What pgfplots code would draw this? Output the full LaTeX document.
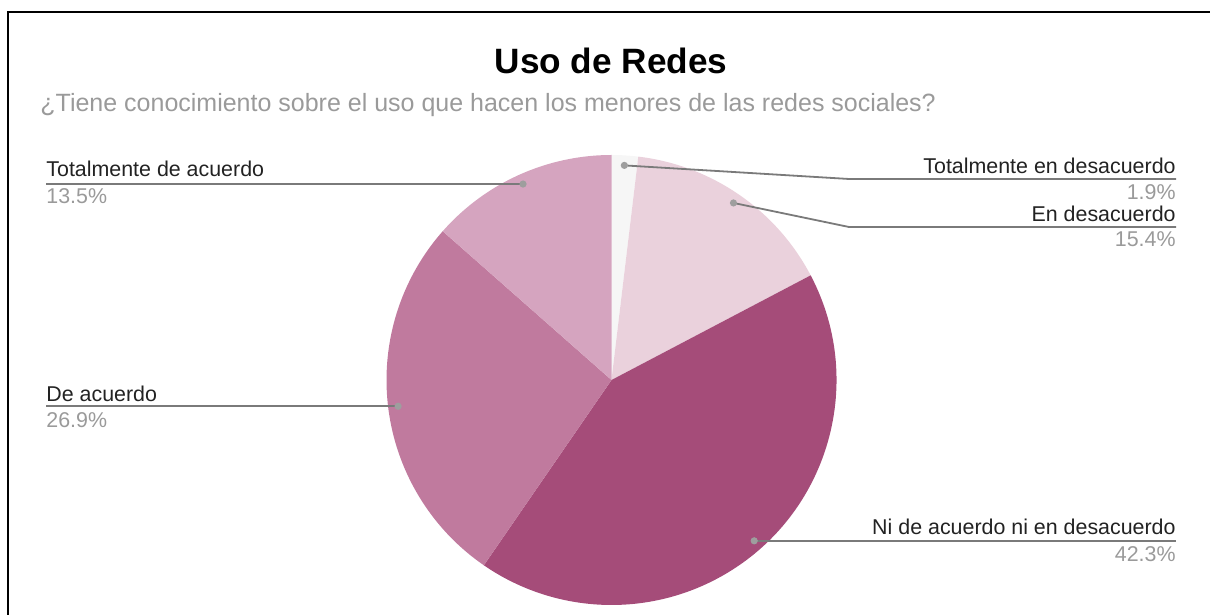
\documentclass[border=0pt]{standalone}
\usepackage{pgfplots}
\pgfplotsset{compat=1.18}
\usepackage{pgfplotstable}
\usepackage{fontspec}
\setmainfont{Liberation Sans}
\definecolor{cTD}{HTML}{F6F6F6}
\definecolor{cED}{HTML}{EAD1DC}
\definecolor{cNN}{HTML}{A54C79}
\definecolor{cDA}{HTML}{C07A9E}
\definecolor{cTA}{HTML}{D5A4BF}
\definecolor{leader}{HTML}{7A7A7A}
\definecolor{dotc}{HTML}{9E9E9E}
\definecolor{subc}{HTML}{9A9A9A}
\definecolor{labc}{HTML}{222222}

\pgfplotstableread{
key value
TD 1.9
ED 15.4
NN 42.3
DA 26.9
TA 13.5
}\piedata

% cumulative angles, clockwise from the top
\pgfplotstablegetelem{0}{value}\of\piedata\let\vA\pgfplotsretval
\pgfplotstablegetelem{1}{value}\of\piedata\let\vB\pgfplotsretval
\pgfplotstablegetelem{2}{value}\of\piedata\let\vC\pgfplotsretval
\pgfplotstablegetelem{3}{value}\of\piedata\let\vD\pgfplotsretval
\pgfplotstablegetelem{4}{value}\of\piedata\let\vE\pgfplotsretval
\pgfmathsetmacro\aA{90}
\pgfmathsetmacro\aB{\aA-3.6*\vA}
\pgfmathsetmacro\aC{\aB-3.6*\vB}
\pgfmathsetmacro\aD{\aC-3.6*\vC}
\pgfmathsetmacro\aE{\aD-3.6*\vD}
\pgfmathsetmacro\aF{\aE-3.6*\vE}
\pgfmathsetmacro\mA{(\aA+\aB)/2}
\pgfmathsetmacro\mB{(\aB+\aC)/2}
\pgfmathsetmacro\mC{(\aC+\aD)/2}
\pgfmathsetmacro\mD{(\aD+\aE)/2}
\pgfmathsetmacro\mE{(\aE+\aF)/2}
% pie centre and radius in axis units (pixels)
\def\cx{611.5}\def\cy{235}\def\R{225}\def\Rd{215}
\pgfmathsetmacro\dAx{\cx+\Rd*cos(\mA)}\pgfmathsetmacro\dAy{\cy+\Rd*sin(\mA)}
\pgfmathsetmacro\dBx{\cx+\Rd*cos(\mB)}\pgfmathsetmacro\dBy{\cy+\Rd*sin(\mB)}
\pgfmathsetmacro\dCx{\cx+\Rd*cos(\mC)}\pgfmathsetmacro\dCy{\cy+\Rd*sin(\mC)}
\pgfmathsetmacro\dDx{\cx+\Rd*cos(\mD)}\pgfmathsetmacro\dDy{\cy+\Rd*sin(\mD)}
\pgfmathsetmacro\dEx{\cx+\Rd*cos(\mE)}\pgfmathsetmacro\dEy{\cy+\Rd*sin(\mE)}

\newcommand\lab{\fontsize{10.7}{12}\selectfont\color{labc}}
\newcommand\pct{\fontsize{10.7}{12}\selectfont\color{subc}}

\begin{document}
\begin{tikzpicture}
\begin{axis}[
  width=605pt, height=307.5pt, scale only axis,
  xmin=0, xmax=1210, ymin=0, ymax=615,
  hide axis, clip=false,
]
% frame
\draw[black, line width=1pt] (axis cs:8,0) -- (axis cs:8,603) -- (axis cs:1210,603);
% title and subtitle
\node[anchor=base, inner sep=0pt, font=\fontsize{17.6}{20}\selectfont\bfseries] at (axis cs:611,541.7) {Uso de Redes};
\node[anchor=base west, inner sep=0pt, text=subc, font=\fontsize{12.5}{14}\selectfont] at (axis cs:40,503.5) {¿Tiene conocimiento sobre el uso que hacen los menores de las redes sociales?};
% slices
\fill[cTD] (axis cs:\cx,\cy) -- ++(\aA:112.5pt) arc[start angle=\aA, end angle=\aB, radius=112.5pt] -- cycle;
\fill[cED] (axis cs:\cx,\cy) -- ++(\aB:112.5pt) arc[start angle=\aB, end angle=\aC, radius=112.5pt] -- cycle;
\fill[cNN] (axis cs:\cx,\cy) -- ++(\aC:112.5pt) arc[start angle=\aC, end angle=\aD, radius=112.5pt] -- cycle;
\fill[cDA] (axis cs:\cx,\cy) -- ++(\aD:112.5pt) arc[start angle=\aD, end angle=\aE, radius=112.5pt] -- cycle;
\fill[cTA] (axis cs:\cx,\cy) -- ++(\aE:112.5pt) arc[start angle=\aE, end angle=\aF, radius=112.5pt] -- cycle;
% leaders
\draw[leader, line width=0.9pt] (axis cs:\dAx,\dAy) -- (axis cs:849,436) -- (axis cs:1176,436);
\draw[leader, line width=0.9pt] (axis cs:\dBx,\dBy) -- (axis cs:849,388) -- (axis cs:1176,388);
\draw[leader, line width=0.9pt] (axis cs:\dCx,\dCy) -- (axis cs:1176,\dCy);
\draw[leader, line width=0.9pt] (axis cs:\dDx,\dDy) -- (axis cs:46,\dDy);
\draw[leader, line width=0.9pt] (axis cs:\dEx,\dEy) -- (axis cs:46,\dEy);
\fill[dotc] (axis cs:\dAx,\dAy) circle[radius=1.8pt];
\fill[dotc] (axis cs:\dBx,\dBy) circle[radius=1.8pt];
\fill[dotc] (axis cs:\dCx,\dCy) circle[radius=1.8pt];
\fill[dotc] (axis cs:\dDx,\dDy) circle[radius=1.8pt];
\fill[dotc] (axis cs:\dEx,\dEy) circle[radius=1.8pt];
% labels
\node[anchor=base east, inner sep=0pt] at (axis cs:1176,441.7) {\lab Totalmente en desacuerdo};
\node[anchor=base east, inner sep=0pt] at (axis cs:1176,415.7) {\pct 1.9\%};
\node[anchor=base east, inner sep=0pt] at (axis cs:1176,393.3) {\lab En desacuerdo};
\node[anchor=base east, inner sep=0pt] at (axis cs:1176,368.3) {\pct 15.4\%};
\node[anchor=base east, inner sep=0pt] at (axis cs:1176,80) {\lab Ni de acuerdo ni en desacuerdo};
\node[anchor=base east, inner sep=0pt] at (axis cs:1176,53.3) {\pct 42.3\%};
\node[anchor=base west, inner sep=0pt] at (axis cs:46,438) {\lab Totalmente de acuerdo};
\node[anchor=base west, inner sep=0pt] at (axis cs:46,411) {\pct 13.5\%};
\node[anchor=base west, inner sep=0pt] at (axis cs:46,213.3) {\lab De acuerdo};
\node[anchor=base west, inner sep=0pt] at (axis cs:46,187) {\pct 26.9\%};
\end{axis}
\pgfresetboundingbox
\path (0,0) rectangle (605pt,307.5pt);
\end{tikzpicture}
\end{document}
